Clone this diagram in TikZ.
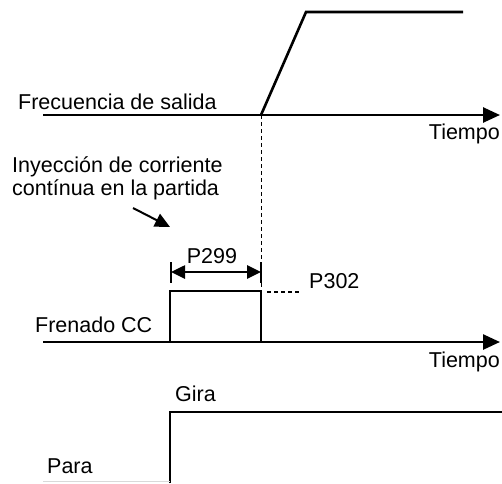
\documentclass[tikz,border=0pt]{standalone}
\usepackage{fontspec}
\setmainfont{Liberation Sans}
\usetikzlibrary{arrows.meta}
\usetikzlibrary{positioning}

\tikzset{
  signal/.style={line width=2.6pt},
  axis/.style={line width=2.6pt, -{Triangle[length=17pt,width=15pt]}},
  lbl/.style={font=\fontsize{21.5}{24}\selectfont, inner sep=0pt, anchor=base west}
}

\begin{document}
\begin{tikzpicture}[x=1pt,y=-1pt]
\useasboundingbox (0,0) rectangle (502,483);
% frecuencia de salida
\coordinate (f0) at (43,115);
\coordinate (f1) at (500,115);
\coordinate (fs) at (261,115);
\coordinate (fr) at (306,12);
\coordinate (fe) at (463,12);
\draw [axis] (f0) -- (f1);
\draw [signal] (fs) -- (fr) -- (fe);
\node [lbl] (frec) at (18,109) {Frecuencia de salida};
\node [lbl, anchor=base east] (t1) at (500,139) {Tiempo};

% inyeccion
\node [lbl] (iny1) at (12,172) {Inyección de corriente};
\node [lbl] (iny2) at (12,195) {contínua en la partida};
\coordinate (a0) at (133,208);
\coordinate (a1) at (170,227);
\draw [line width=2pt, -{Triangle[length=15pt,width=14pt]}] (a0) -- (a1);

% frenado CC
\coordinate (pa) at (170,342);
\coordinate (pb) at (170,291);
\coordinate (pc) at (261,291);
\coordinate (pd) at (261,342);
\coordinate (b0) at (43,342);
\coordinate (b1) at (500,342);
\draw [axis] (b0) -- (b1);
\draw [signal] (pa) -- (pb) -- (pc) -- (pd);
\draw [line width=0.8pt, dash pattern=on 4pt off 3pt] (fs) -- (pc);
\node [lbl] (fren) at (35,332) {Frenado CC};
\node [lbl, anchor=base east] (t2) at (500,367) {Tiempo};

% P299 / P302
\coordinate (k0) at (171,262);
\coordinate (k1) at (171,283);
\coordinate (k2) at (261,262);
\coordinate (k3) at (261,283);
\coordinate (m0) at (171,272);
\coordinate (m1) at (261,272);
\draw [signal] (k0) -- (k1);
\draw [signal] (k2) -- (k3);
\draw [line width=2.6pt, {Triangle[length=14pt,width=13pt]}-{Triangle[length=14pt,width=13pt]}] (m0) -- (m1);
\node [lbl, anchor=base] (p299) at (212,263) {P299};
\coordinate (q0) at (267,292);
\coordinate (q1) at (301,292);
\draw [line width=2pt, dash pattern=on 4pt off 3pt] (q0) -- (q1);
\node [lbl] (p302) at (309,288) {P302};

% gira / para
\coordinate (g0) at (170,483);
\coordinate (g1) at (170,412);
\coordinate (g2) at (502,412);
\draw [signal] (g0) -- (g1) -- (g2);
\node [lbl] (gira) at (175,401) {Gira};
\node [lbl] (para) at (47,473) {Para};
\coordinate (h0) at (43,481);
\coordinate (h1) at (170,481);
\draw [line width=1pt, black!15] (h0) -- (h1);
\end{tikzpicture}
\end{document}
